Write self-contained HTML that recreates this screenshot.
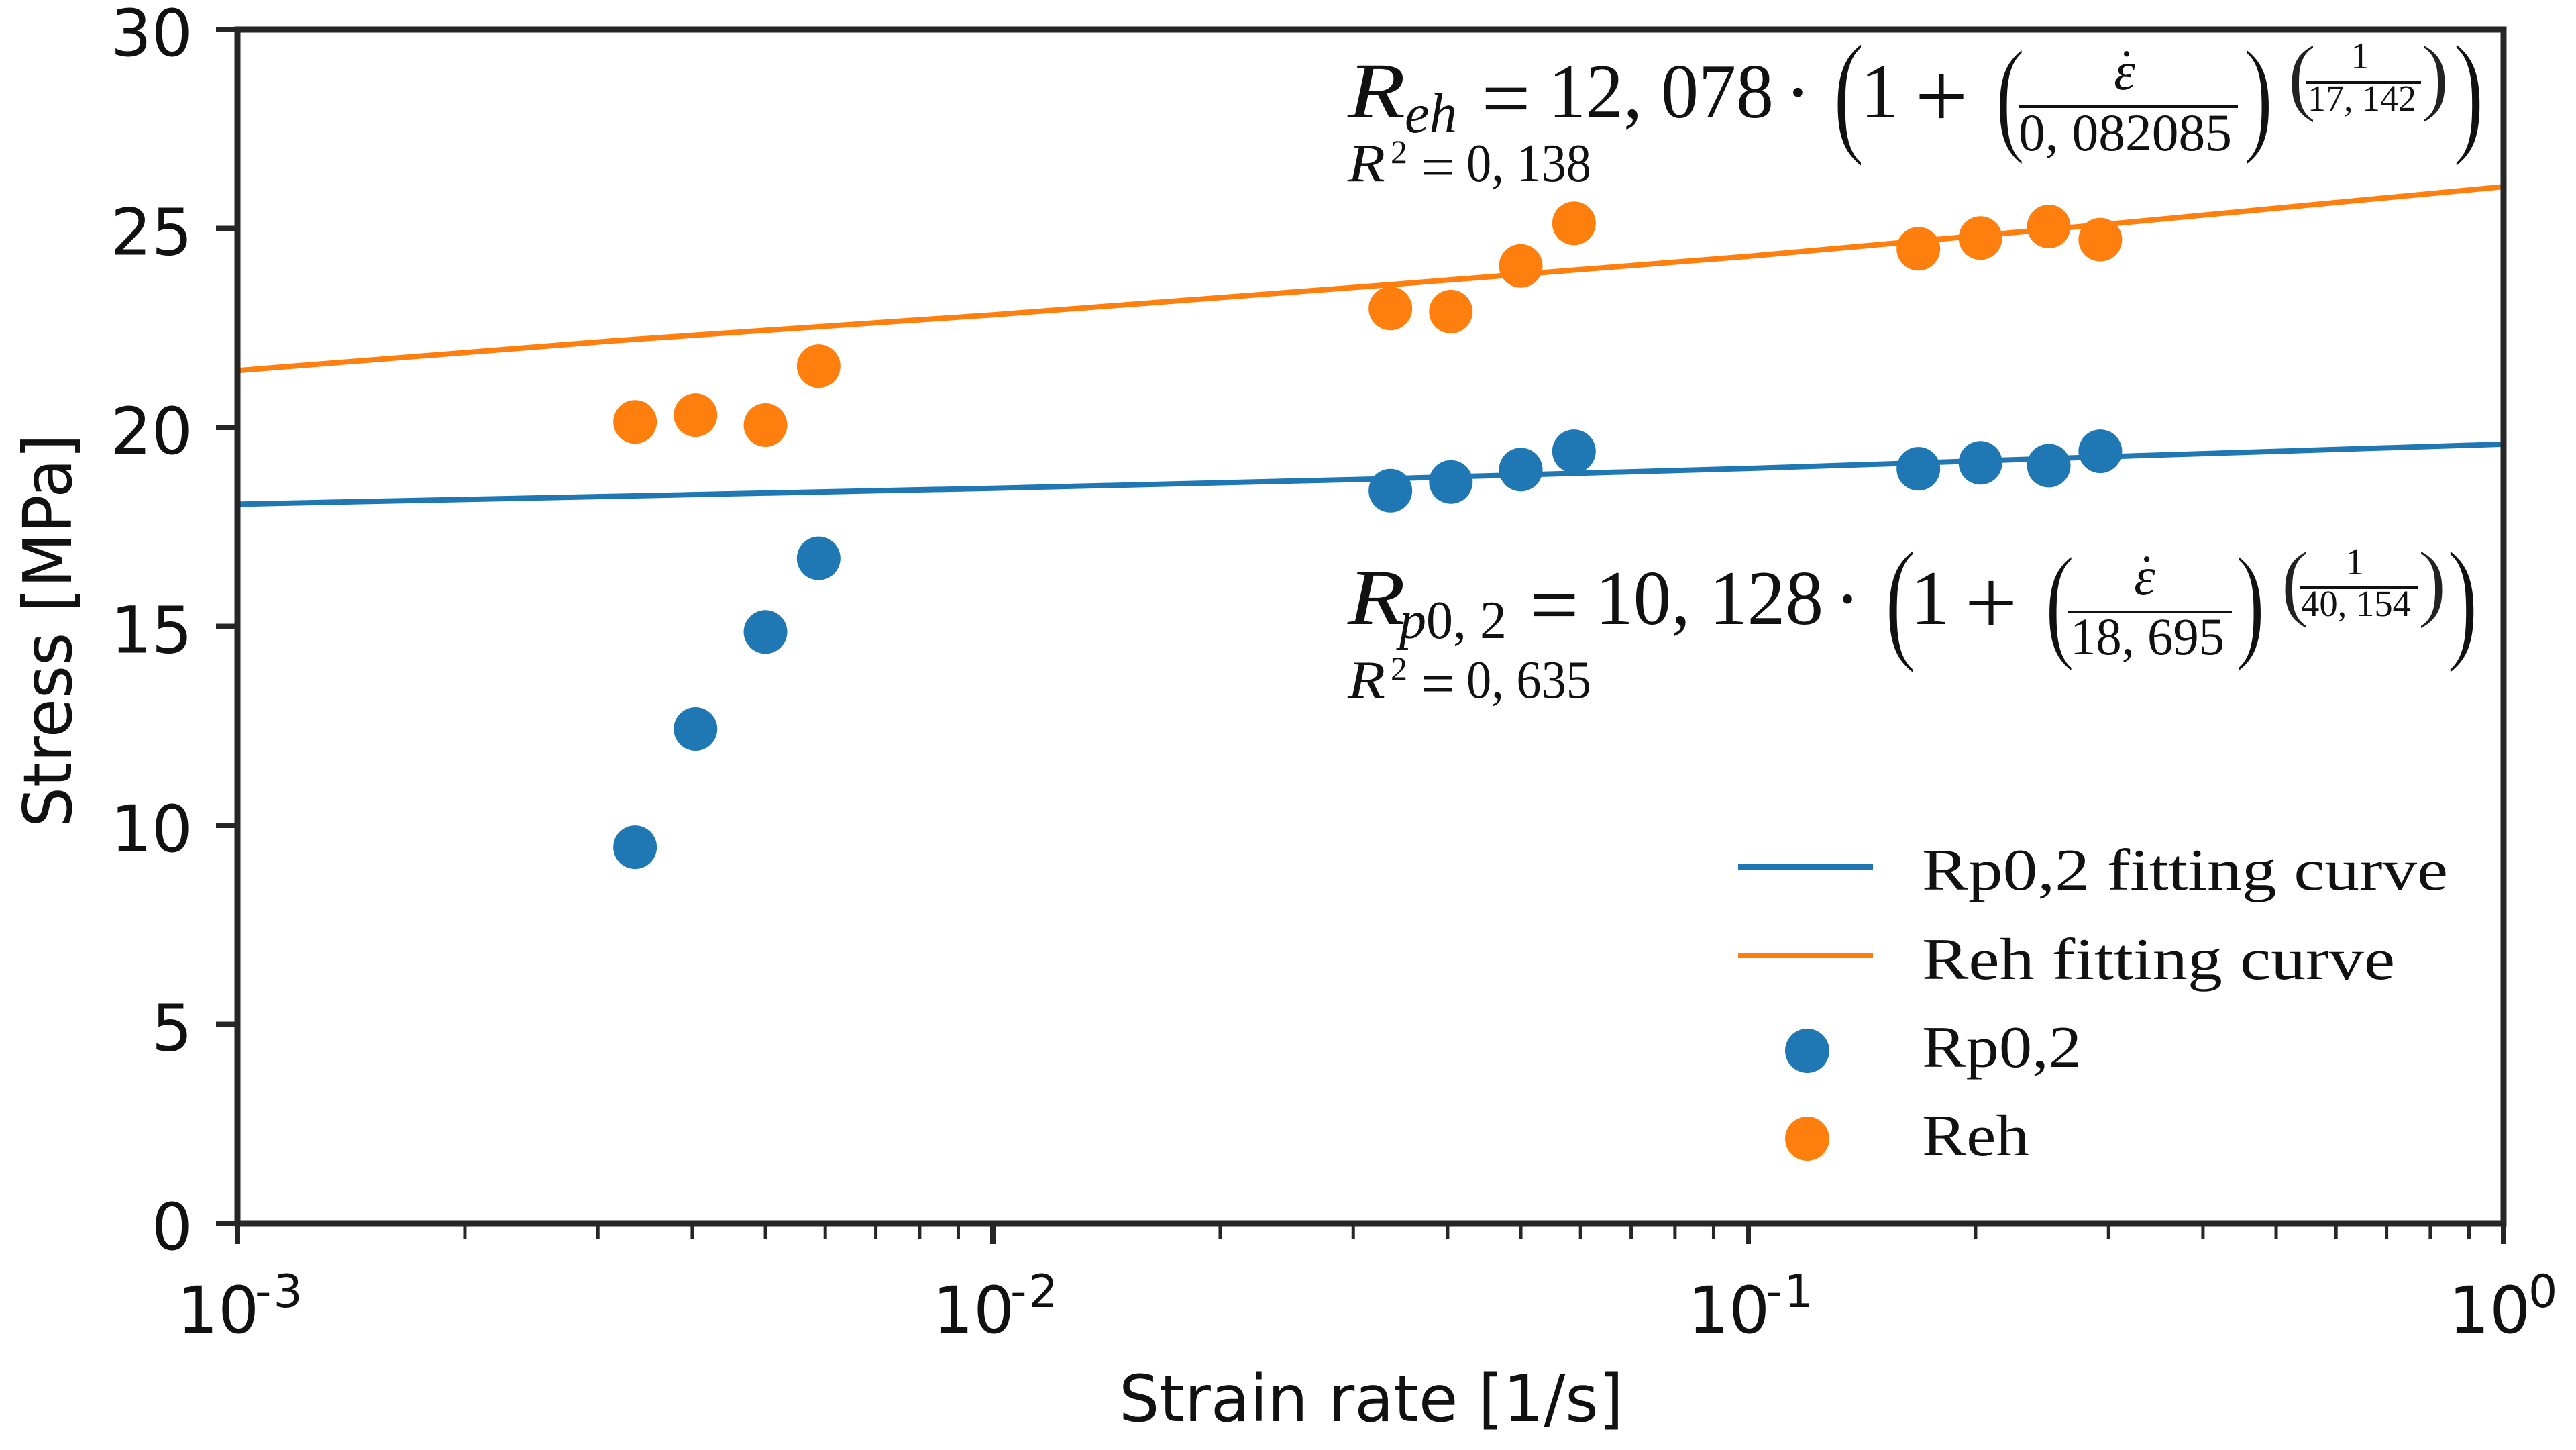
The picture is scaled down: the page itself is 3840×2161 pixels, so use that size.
<!DOCTYPE html>
<html lang="en">
<head>
<meta charset="utf-8">
<title>Stress vs strain rate</title>
<style>
html,body{margin:0;padding:0;background:#fff;width:3840px;height:2161px;overflow:hidden}
svg{display:block}
.dj{font-family:"DejaVu Sans","Liberation Sans",sans-serif;fill:#111}
.se{font-family:"Liberation Serif","DejaVu Serif",serif;fill:#111}
.it{font-style:italic}
.mid{text-anchor:middle}
.thin{stroke:#fff;stroke-width:3.5px}
.thinner{stroke:#fff;stroke-width:2.5px;fill:#222}
</style>
</head>
<body>
<svg id="chart" xmlns="http://www.w3.org/2000/svg" width="3840" height="2161" viewBox="0 0 3840 2161">
  <rect x="0" y="0" width="3840" height="2161" fill="#fff"/>
  <g id="marks"></g>
  <g id="axes"></g>

  <text class="dj" x="1668" y="2118" font-size="96" textLength="752" lengthAdjust="spacingAndGlyphs">Strain rate [1/s]</text>
  <text class="dj" transform="translate(106,1233) rotate(-90)" x="0" y="0" font-size="100" textLength="586" lengthAdjust="spacingAndGlyphs">Stress [MPa]</text>

  <g>
    <text class="se it" x="2009" y="175" font-size="118" textLength="86" lengthAdjust="spacingAndGlyphs">R</text>
    <text class="se it" x="2094" y="197" font-size="84" textLength="78" lengthAdjust="spacingAndGlyphs">eh</text>
    <text class="se mid" x="2245" y="190" font-size="130">=</text>
    <text class="se" x="2308" y="175" font-size="116" textLength="336" lengthAdjust="spacingAndGlyphs">12, 078</text>
    <text class="se mid" x="2680" y="176" font-size="116">·</text>
    <text class="se thin" transform="translate(2732,206) scale(.7,1)" font-size="205">(</text>
    <text class="se mid" x="2802" y="175" font-size="116">1</text>
    <text class="se mid" x="2894" y="190" font-size="140">+</text>
    <text class="se thin" transform="translate(2974,206) scale(.66,.94)" font-size="205">(</text>
    <text class="se it mid" x="3167" y="133" font-size="80">ε</text>
    <text class="se mid" x="3170" y="128" font-size="78">˙</text>
    <rect x="3010" y="157" width="326" height="4" fill="#111"/>
    <text class="se" x="3009" y="224" font-size="78" textLength="318" lengthAdjust="spacingAndGlyphs">0, 082085</text>
    <text class="se thin" transform="translate(3344,206) scale(.66,.94)" font-size="205">)</text>
    <text class="se thinner" transform="translate(3410,156) scale(.68,.68)" font-size="190">(</text>
    <text class="se mid" x="3518" y="102" font-size="56">1</text>
    <rect x="3437" y="121" width="172" height="4" fill="#111"/>
    <text class="se" x="3440" y="165" font-size="55" textLength="162" lengthAdjust="spacingAndGlyphs">17, 142</text>
    <text class="se thinner" transform="translate(3608,156) scale(.68,.68)" font-size="190">)</text>
    <text class="se thin" transform="translate(3656,206) scale(.7,1)" font-size="205">)</text>
  </g>
  <g>
    <text class="se it" x="2009" y="270" font-size="80" textLength="56" lengthAdjust="spacingAndGlyphs">R</text>
    <text class="se" x="2073" y="243" font-size="50">2</text>
    <text class="se mid" x="2143" y="279" font-size="90">=</text>
    <text class="se" x="2186" y="270" font-size="80" textLength="186" lengthAdjust="spacingAndGlyphs">0, 138</text>
  </g>

  <g>
    <text class="se it" x="2009" y="930" font-size="118" textLength="86" lengthAdjust="spacingAndGlyphs">R</text>
    <text class="se" x="2086" y="951" font-size="80" textLength="160" lengthAdjust="spacingAndGlyphs"><tspan font-style="italic">p</tspan>0, 2</text>
    <text class="se mid" x="2317" y="945" font-size="130">=</text>
    <text class="se" x="2378" y="930" font-size="116" textLength="340" lengthAdjust="spacingAndGlyphs">10, 128</text>
    <text class="se mid" x="2754" y="931" font-size="116">·</text>
    <text class="se thin" transform="translate(2809,961) scale(.7,1)" font-size="205">(</text>
    <text class="se mid" x="2877" y="930" font-size="116">1</text>
    <text class="se mid" x="2968" y="945" font-size="140">+</text>
    <text class="se thin" transform="translate(3048,961) scale(.66,.94)" font-size="205">(</text>
    <text class="se it mid" x="3197" y="886" font-size="80">ε</text>
    <text class="se mid" x="3200" y="881" font-size="78">˙</text>
    <rect x="3082" y="910" width="245" height="4" fill="#111"/>
    <text class="se" x="3086" y="975" font-size="78" textLength="230" lengthAdjust="spacingAndGlyphs">18, 695</text>
    <text class="se thin" transform="translate(3332,961) scale(.66,.94)" font-size="205">)</text>
    <text class="se thinner" transform="translate(3400,910) scale(.68,.68)" font-size="190">(</text>
    <text class="se mid" x="3510" y="856" font-size="56">1</text>
    <rect x="3428" y="874" width="177" height="4" fill="#111"/>
    <text class="se" x="3430" y="918" font-size="55" textLength="164" lengthAdjust="spacingAndGlyphs">40, 154</text>
    <text class="se thinner" transform="translate(3604,910) scale(.68,.68)" font-size="190">)</text>
    <text class="se thin" transform="translate(3647,961) scale(.7,1)" font-size="205">)</text>
  </g>
  <g>
    <text class="se it" x="2009" y="1040" font-size="80" textLength="56" lengthAdjust="spacingAndGlyphs">R</text>
    <text class="se" x="2073" y="1013" font-size="50">2</text>
    <text class="se mid" x="2143" y="1049" font-size="90">=</text>
    <text class="se" x="2186" y="1040" font-size="80" textLength="186" lengthAdjust="spacingAndGlyphs">0, 635</text>
  </g>

  <g>
    <line x1="2591" x2="2792" y1="1292" y2="1292" stroke="#1f77b4" stroke-width="8"/>
    <text class="se" x="2865" y="1326" font-size="88" textLength="784" lengthAdjust="spacingAndGlyphs">Rp0,2 fitting curve</text>
    <line x1="2591" x2="2792" y1="1424" y2="1424" stroke="#ff7f0e" stroke-width="8"/>
    <text class="se" x="2865" y="1459" font-size="88" textLength="705" lengthAdjust="spacingAndGlyphs">Reh fitting curve</text>
    <circle cx="2694" cy="1566" r="33" fill="#1f77b4"/>
    <text class="se" x="2865" y="1590" font-size="88" textLength="238" lengthAdjust="spacingAndGlyphs">Rp0,2</text>
    <circle cx="2694" cy="1697" r="33" fill="#ff7f0e"/>
    <text class="se" x="2865" y="1722" font-size="88" textLength="160" lengthAdjust="spacingAndGlyphs">Reh</text>
  </g>
</svg>
<script>
const strainRates = [0.00336, 0.00404, 0.005, 0.00588, 0.0336, 0.0404, 0.05, 0.0588, 0.168, 0.203, 0.25, 0.2925];
const rp02Values = [9.45, 12.42, 14.86, 16.71, 18.41, 18.63, 18.94, 19.4, 18.96, 19.11, 19.04, 19.4];
const rehValues = [20.14, 20.31, 20.06, 21.54, 22.99, 22.91, 24.06, 25.13, 24.49, 24.76, 25.05, 24.72];
const fitRates = [0.001, 0.00316, 0.01, 0.0316, 0.1, 0.316, 1];
const rp02Fit = [18.07, 18.27, 18.47, 18.7, 18.97, 19.28, 19.58];
const rehFit = [21.43, 22.18, 22.83, 23.55, 24.3, 25.15, 26.05];
const yTicks = [0, 5, 10, 15, 20, 25, 30];
const xDecades = [0.001, 0.01, 0.1, 1];
const xTickExponents = ["-3", "-2", "-1", "0"];
const minorMultipliers = [2, 3, 4, 5, 6, 7, 8, 9];

const SVG_NS = "http://www.w3.org/2000/svg";
const plotLeft = 354, plotRight = 3732, plotTop = 44, plotBottom = 1823;
const xMin = 0.001, xMax = 1, yMin = 0, yMax = 30;
const inkColor = "#262626";
const xScale = v => plotLeft + (Math.log10(v) - Math.log10(xMin)) / (Math.log10(xMax) - Math.log10(xMin)) * (plotRight - plotLeft);
const yScale = v => plotBottom - (v - yMin) / (yMax - yMin) * (plotBottom - plotTop);
const marks = document.getElementById("marks");
const axes = document.getElementById("axes");

function make(tag, attrs, parent) {
  const el = document.createElementNS(SVG_NS, tag);
  Object.keys(attrs).forEach(k => el.setAttribute(k, attrs[k]));
  parent.appendChild(el);
  return el;
}
function fitPoints(ys) {
  return fitRates.map((r, i) => xScale(r).toFixed(1) + "," + yScale(ys[i]).toFixed(1)).join(" ");
}

const rp02Line = make("polyline", {points: fitPoints(rp02Fit), fill: "none", stroke: "#1f77b4", "stroke-width": 8}, marks);


const rehLine = make("polyline", {points: fitPoints(rehFit), fill: "none", stroke: "#ff7f0e", "stroke-width": 8}, marks);



strainRates.forEach((rate, i) => {
  const dot = make("circle", {cx: xScale(rate), cy: yScale(rp02Values[i]), r: 32.5, fill: "#1f77b4"}, marks);
  
  
});
strainRates.forEach((rate, i) => {
  const dot = make("circle", {cx: xScale(rate), cy: yScale(rehValues[i]), r: 32.5, fill: "#ff7f0e"}, marks);
  
  
});

const frame = make("rect", {x: plotLeft, y: plotTop, width: plotRight - plotLeft, height: plotBottom - plotTop, fill: "none", stroke: inkColor, "stroke-width": 9}, axes);



yTicks.forEach(v => {
  const y = yScale(v);
  const tick = make("line", {x1: 322, x2: plotLeft, y1: y, y2: y, stroke: inkColor, "stroke-width": 8}, axes);
  
  
  const label = make("text", {class: "dj", x: 287, y: y + 39, "font-size": 96, "text-anchor": "end"}, axes);
  label.textContent = String(v);
  
  
});

xDecades.forEach((d, i) => {
  const x = xScale(d);
  const tick = make("line", {x1: x, x2: x, y1: plotBottom, y2: 1854, stroke: inkColor, "stroke-width": 8}, axes);
  
  
  const exponent = xTickExponents[i];
  const negative = exponent.charAt(0) === "-";
  const base = make("text", {class: "dj", x: x + (negative ? -90 : -82), y: 1986, "font-size": 96}, axes);
  base.textContent = "10";
  
  
  const sup = make("text", {class: "dj", x: x + (negative ? 26 : 37), y: 1948, "font-size": 68, "letter-spacing": negative ? 3 : 0}, axes);
  sup.textContent = exponent;
  
  
  if (i < xDecades.length - 1) {
    minorMultipliers.forEach(m => {
      const mx = xScale(d * m);
      const minor = make("line", {x1: mx, x2: mx, y1: plotBottom, y2: 1846, stroke: inkColor, "stroke-width": 5}, axes);
      
      
    });
  }
});
</script>
</body>
</html>
